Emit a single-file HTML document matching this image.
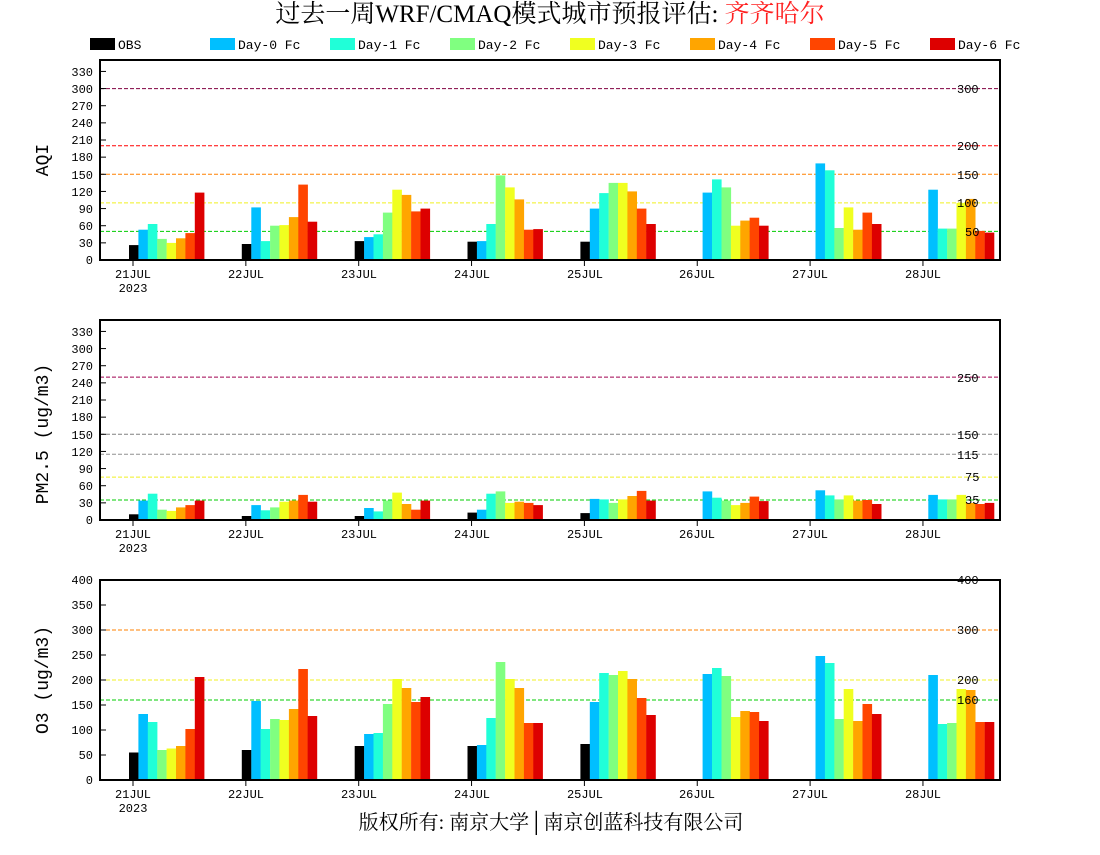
<!DOCTYPE html>
<html><head><meta charset="utf-8"><style>
body{margin:0;background:#fff;width:1100px;height:850px;overflow:hidden}
svg text{font-family:"Liberation Mono","DejaVu Sans Mono",monospace}
</style></head><body>
<svg id="s" width="1100" height="850" xmlns="http://www.w3.org/2000/svg">
<text x="550" y="22" font-size="25" text-anchor="middle" style="font-family:'Liberation Serif','Noto Serif CJK SC',serif">过去一周WRF/CMAQ模式城市预报评估: <tspan fill="#ff2020">齐齐哈尔</tspan></text>
<g font-size="13">
<rect x="90" y="38" width="25" height="12" fill="#000"/><text x="118" y="49">OBS</text>
<rect x="210" y="38" width="25" height="12" fill="#00bfff"/><text x="238" y="49">Day-0 Fc</text>
<rect x="330" y="38" width="25" height="12" fill="#20ffd8"/><text x="358" y="49">Day-1 Fc</text>
<rect x="450" y="38" width="25" height="12" fill="#80ff80"/><text x="478" y="49">Day-2 Fc</text>
<rect x="570" y="38" width="25" height="12" fill="#f0ff20"/><text x="598" y="49">Day-3 Fc</text>
<rect x="690" y="38" width="25" height="12" fill="#ffa500"/><text x="718" y="49">Day-4 Fc</text>
<rect x="810" y="38" width="25" height="12" fill="#ff4500"/><text x="838" y="49">Day-5 Fc</text>
<rect x="930" y="38" width="25" height="12" fill="#dd0000"/><text x="958" y="49">Day-6 Fc</text>
</g>
<g id="g"></g>
<g font-size="12" text-anchor="end">
<text x="93" y="264">0</text><text x="93" y="247">30</text><text x="93" y="230">60</text><text x="93" y="213">90</text><text x="93" y="196">120</text><text x="93" y="179">150</text><text x="93" y="161">180</text><text x="93" y="144">210</text><text x="93" y="127">240</text><text x="93" y="110">270</text><text x="93" y="93">300</text><text x="93" y="76">330</text>
<text x="93" y="524">0</text><text x="93" y="507">30</text><text x="93" y="490">60</text><text x="93" y="473">90</text><text x="93" y="456">120</text><text x="93" y="439">150</text><text x="93" y="421">180</text><text x="93" y="404">210</text><text x="93" y="387">240</text><text x="93" y="370">270</text><text x="93" y="353">300</text><text x="93" y="336">330</text>
<text x="93" y="784">0</text><text x="93" y="759">50</text><text x="93" y="734">100</text><text x="93" y="709">150</text><text x="93" y="684">200</text><text x="93" y="659">250</text><text x="93" y="634">300</text><text x="93" y="609">350</text><text x="93" y="584">400</text>
</g>
<g font-size="12">
<text x="957" y="93">300</text><text x="957" y="150">200</text><text x="957" y="179">150</text><text x="957" y="207">100</text><text x="965" y="236">50</text>
<text x="957" y="382">250</text><text x="957" y="439">150</text><text x="957" y="459">115</text><text x="965" y="481">75</text><text x="965" y="504">35</text>
<text x="957" y="584">400</text><text x="957" y="634">300</text><text x="957" y="684">200</text><text x="957" y="704">160</text>
</g>
<g font-size="18">
<text transform="translate(48,160) rotate(-90)" text-anchor="middle">AQI</text>
<text transform="translate(48,434) rotate(-90)" text-anchor="middle">PM2.5 (ug/m3)</text>
<text transform="translate(48,680) rotate(-90)" text-anchor="middle">O3 (ug/m3)</text>
</g>
<g font-size="12" text-anchor="middle">
<text x="133" y="278">21JUL</text><text x="133" y="292">2023</text><text x="246" y="278">22JUL</text><text x="359" y="278">23JUL</text><text x="472" y="278">24JUL</text><text x="585" y="278">25JUL</text><text x="697" y="278">26JUL</text><text x="810" y="278">27JUL</text><text x="923" y="278">28JUL</text>
<text x="133" y="538">21JUL</text><text x="133" y="552">2023</text><text x="246" y="538">22JUL</text><text x="359" y="538">23JUL</text><text x="472" y="538">24JUL</text><text x="585" y="538">25JUL</text><text x="697" y="538">26JUL</text><text x="810" y="538">27JUL</text><text x="923" y="538">28JUL</text>
<text x="133" y="798">21JUL</text><text x="133" y="812">2023</text><text x="246" y="798">22JUL</text><text x="359" y="798">23JUL</text><text x="472" y="798">24JUL</text><text x="585" y="798">25JUL</text><text x="697" y="798">26JUL</text><text x="810" y="798">27JUL</text><text x="923" y="798">28JUL</text>
</g>
<text x="551" y="829" font-size="20" text-anchor="middle" style="font-family:'Liberation Serif','Noto Serif CJK SC',serif">版权所有: 南京大学│南京创蓝科技有限公司</text>
</svg>
<script>
var C=["#000","#00bfff","#20ffd8","#80ff80","#f0ff20","#ffa500","#ff4500","#dd0000"];
var P=[
{top:60,bot:260,max:350,ticks:30,lines:[[300,"#800040"],[200,"#ff0000"],[150,"#ff8000"],[100,"#f0f020"],[50,"#00cc00"]],
d:[[26,53,63,37,30,38,47,118],[28,92,33,60,61,75,132,67],[33,40,45,83,123,114,85,90],[32,33,63,148,127,106,53,54],[32,90,117,135,135,120,90,63],[0,118,141,127,60,69,74,60],[0,169,157,56,92,53,83,63],[0,123,55,55,100,107,51,48]]},
{top:320,bot:520,max:350,ticks:30,lines:[[250,"#a00050"],[150,"#808080"],[115,"#909090"],[75,"#f0f020"],[35,"#00cc00"]],
d:[[10,34,46,18,16,22,26,34],[7,26,17,22,32,34,44,32],[7,21,15,34,48,28,18,34],[13,18,46,50,30,32,30,26],[12,37,36,30,36,42,51,34],[0,50,39,34,26,30,41,33],[0,52,43,36,43,34,35,28],[0,44,36,36,44,30,28,30]]},
{top:580,bot:780,max:400,ticks:50,lines:[[400,"#ff0000"],[300,"#ff8000"],[200,"#f0f020"],[160,"#00cc00"]],
d:[[55,132,116,60,63,68,102,206],[60,158,102,122,120,142,222,128],[68,92,94,152,202,184,156,166],[68,70,124,236,202,184,114,114],[72,156,214,210,218,202,164,130],[0,212,224,208,126,138,136,118],[0,248,234,122,182,118,152,132],[0,210,112,114,182,180,116,116]]}];
var h="";
P.forEach(function(p){
 var s=(p.bot-p.top)/p.max;
 p.lines.forEach(function(l){var y=p.bot-l[0]*s;h+='<line x1="100" x2="1000" y1="'+y+'" y2="'+y+'" stroke="'+l[1]+'" stroke-width="1" stroke-dasharray="4,2"/>';});
 p.d.forEach(function(g,i){var x0=129+112.85*i;g.forEach(function(v,j){if(v>0){var hh=v*s;h+='<rect x="'+(x0+j*9.4).toFixed(1)+'" y="'+(p.bot-hh).toFixed(1)+'" width="9.6" height="'+hh.toFixed(1)+'" fill="'+C[j]+'"/>';}});
  var tx=133+112.85*i;h+='<line x1="'+tx+'" x2="'+tx+'" y1="'+p.bot+'" y2="'+(p.bot+6)+'" stroke="#000"/>';});
 for(var v=0;v<=p.max;v+=p.ticks){var y=p.bot-v*s;h+='<line x1="100" x2="106" y1="'+y+'" y2="'+y+'" stroke="#000"/>';}
 h+='<rect x="100" y="'+p.top+'" width="900" height="'+(p.bot-p.top)+'" fill="none" stroke="#000" stroke-width="2"/>';
});
document.getElementById("g").innerHTML=h;
</script>
</body></html>
